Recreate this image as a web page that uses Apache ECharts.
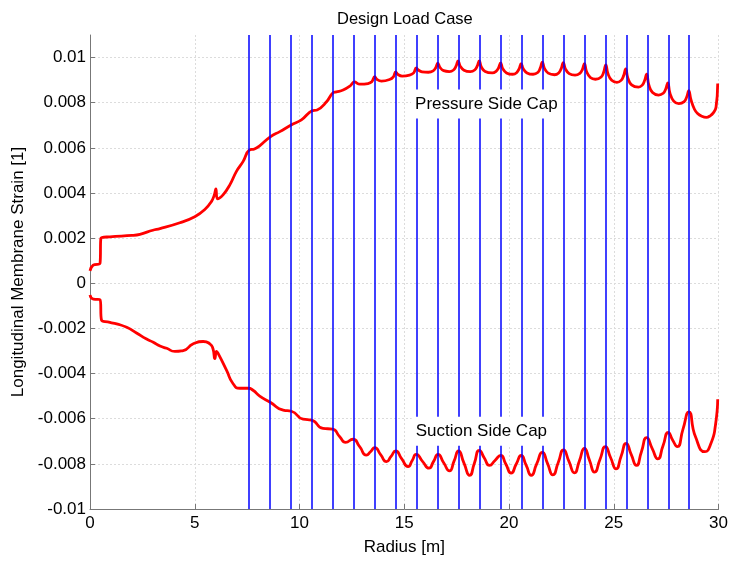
<!DOCTYPE html>
<html>
<head>
<meta charset="utf-8">
<script src="https://cdn.jsdelivr.net/npm/echarts@6/dist/echarts.min.js"></script>
<style>
html,body{margin:0;padding:0;background:#fff;}
#chart{width:731px;height:561px;}
</style>
</head>
<body>
<div id="chart"></div>
<script>
// ---- data ----
const pressureSide = [
  [0, 0.00055], [0.15, 0.0008], [0.48, 0.00089], [0.52, 0.00199], [0.95, 0.00206], [2.0, 0.00212],
  [2.38, 0.00217], [3.0, 0.00235], [3.34, 0.00242], [4.29, 0.00268], [5.0, 0.00295], [5.48, 0.00327],
  [5.8, 0.00363], [5.93, 0.0039], [6.01, 0.00418], [6.08, 0.00374], [6.36, 0.00393], [6.68, 0.00437],
  [6.99, 0.00496], [7.31, 0.0054], [7.6, 0.0059], [7.85, 0.00595], [8.11, 0.0061], [8.62, 0.0065],
  [9.06, 0.00672], [9.62, 0.00702], [10.09, 0.00724], [10.62, 0.00765], [10.84, 0.00768], [11.29, 0.00804],
  [11.6, 0.00844], [11.76, 0.00848], [12.08, 0.00856], [12.4, 0.00873], [12.62, 0.00892], [12.88, 0.00882],
  [13.27, 0.00885], [13.45, 0.00893], [13.59, 0.00915], [13.7, 0.00903], [13.91, 0.00896], [14.3, 0.00903],
  [14.48, 0.00915], [14.59, 0.00937], [14.7, 0.00925], [14.9, 0.00918], [15.25, 0.00922], [15.45, 0.00932],
  [15.57, 0.00954], [15.67, 0.00945], [15.85, 0.00937], [16.15, 0.00935], [16.38, 0.00941], [16.5, 0.00955],
  [16.6, 0.00975], [16.7, 0.00957], [16.88, 0.00942], [17.15, 0.00938], [17.35, 0.00945], [17.47, 0.00962],
  [17.57, 0.00985], [17.67, 0.00962], [17.85, 0.00944], [18.15, 0.00938], [18.36, 0.00945], [18.48, 0.00962],
  [18.58, 0.00985], [18.68, 0.00958], [18.86, 0.00938], [19.2, 0.00932], [19.38, 0.00939], [19.5, 0.00954],
  [19.6, 0.00976], [19.7, 0.00951], [19.88, 0.00932], [20.18, 0.00926], [20.36, 0.00933], [20.48, 0.0095],
  [20.58, 0.00973], [20.68, 0.0095], [20.86, 0.00932], [21.15, 0.00926], [21.37, 0.00934], [21.49, 0.00953],
  [21.59, 0.0098], [21.69, 0.00952], [21.87, 0.00931], [22.17, 0.00924], [22.37, 0.00932], [22.49, 0.00951],
  [22.59, 0.00978], [22.69, 0.0095], [22.87, 0.00929], [23.15, 0.00922], [23.38, 0.0093], [23.5, 0.00947],
  [23.6, 0.00973], [23.7, 0.00938], [23.88, 0.00912], [24.12, 0.00904], [24.4, 0.00914], [24.52, 0.00936],
  [24.62, 0.00968], [24.72, 0.00929], [24.9, 0.00899], [25.15, 0.0089], [25.35, 0.00899], [25.47, 0.0092],
  [25.57, 0.0095], [25.67, 0.0091], [25.85, 0.00879], [26.18, 0.00869], [26.36, 0.00878], [26.47, 0.00898],
  [26.57, 0.00926], [26.67, 0.0088], [26.85, 0.00845], [27.14, 0.00834], [27.36, 0.00842], [27.48, 0.00861],
  [27.58, 0.00888], [27.68, 0.00842], [27.86, 0.00807], [28.1, 0.00796], [28.36, 0.00805], [28.48, 0.00825],
  [28.58, 0.00853], [28.68, 0.00815], [28.85, 0.00771], [29.0, 0.00752], [29.2, 0.0074], [29.42, 0.00735],
  [29.6, 0.00742], [29.75, 0.00755], [29.88, 0.0078], [29.96, 0.00885]
];
const suctionSide = [
  [0, -0.00052], [0.16, -0.0007], [0.48, -0.00073], [0.55, -0.00163], [0.95, -0.00173], [1.27, -0.0018],
  [1.75, -0.00195], [2.22, -0.0022], [2.7, -0.00247], [3.02, -0.00261], [3.34, -0.00278], [3.66, -0.00288],
  [4.05, -0.00302], [4.45, -0.00298], [4.93, -0.00268], [5.4, -0.00258], [5.72, -0.00268], [5.87, -0.0029],
  [5.96, -0.00334], [6.04, -0.00302], [6.12, -0.00312], [6.52, -0.00386], [6.83, -0.00445], [7.15, -0.00465],
  [7.55, -0.00465], [7.78, -0.00474], [8.1, -0.005], [8.62, -0.00528], [9.22, -0.00562], [9.61, -0.00567],
  [10.17, -0.00602], [10.57, -0.00606], [11.12, -0.00643], [11.57, -0.00646], [11.92, -0.0068], [12.2, -0.00705],
  [12.55, -0.00691], [12.87, -0.00724], [13.19, -0.00761], [13.4, -0.00745],
  [13.59, -0.00728], [13.87, -0.00759], [14.15, -0.0079], [14.37, -0.00767],
  [14.59, -0.00743], [14.88, -0.00778], [15.18, -0.00812], [15.38, -0.00785],
  [15.57, -0.00758], [15.87, -0.00789], [16.18, -0.00819], [16.4, -0.00789],
  [16.61, -0.00758], [16.88, -0.00795], [17.16, -0.00831], [17.38, -0.00787],
  [17.59, -0.00743], [17.85, -0.00797], [18.12, -0.00851], [18.35, -0.00796],
  [18.58, -0.0074], [18.82, -0.00774], [19.07, -0.00807], [19.33, -0.00785],
  [19.6, -0.00763], [19.85, -0.00802], [20.1, -0.00841], [20.34, -0.00802],
  [20.58, -0.00763], [20.82, -0.00807], [21.06, -0.00851], [21.32, -0.008],
  [21.59, -0.00749], [21.84, -0.00799], [22.09, -0.00849], [22.35, -0.00794],
  [22.6, -0.00738], [22.86, -0.00789], [23.12, -0.0084], [23.36, -0.00786],
  [23.6, -0.00731], [23.84, -0.00784], [24.08, -0.00837], [24.34, -0.00781],
  [24.6, -0.00724], [24.85, -0.00773], [25.11, -0.00822], [25.35, -0.00766],
  [25.59, -0.00709], [25.83, -0.00758], [26.08, -0.00807], [26.32, -0.00746],
  [26.57, -0.00684], [26.83, -0.00731], [27.1, -0.00778], [27.35, -0.0072],
  [27.6, -0.00661], [27.8, -0.00693], [28.03, -0.00724], [28.3, -0.00647],
  [28.58, -0.0057], [28.9, -0.0068], [29.35, -0.00746], [29.64, -0.00709],
  [29.85, -0.0063], [29.96, -0.00514]
];
const capPositions = [7.6, 8.6, 9.6, 10.6, 11.6, 12.6, 13.6, 14.6, 15.6, 16.6, 17.6, 18.6,
                      19.6, 20.6, 21.6, 22.6, 23.6, 24.6, 25.6, 26.6, 27.6, 28.6];
const yTicks = [-0.01, -0.008, -0.006, -0.004, -0.002, 0, 0.002, 0.004, 0.006, 0.008, 0.01];
const xTicks = [0, 5, 10, 15, 20, 25, 30];
const capLabels = [
  { name: 'Pressure Side Cap', value: [18.92, 0.00794] },
  { name: 'Suction Side Cap', value: [18.68, -0.00656] }
];

const FONT = 'Liberation Sans, Arial, sans-serif';
const chart = echarts.init(document.getElementById('chart'), null, { renderer: 'canvas' });
const fmt = v => (Math.abs(v) < 1e-12 ? '0' : String(+v.toFixed(4)));

chart.setOption({
  animation: false,
  backgroundColor: '#fff',
  title: {
    text: 'Design Load Case',
    left: 332, top: 6,
    textStyle: { fontFamily: FONT, fontSize: 16.5, fontWeight: 'normal', color: '#000' }
  },
  grid: { left: 90, right: 12, top: 35, bottom: 50 },
  xAxis: {
    type: 'value', min: 0, max: 30, interval: 5,
    name: 'Radius [m]', nameLocation: 'middle', nameGap: 30,
    nameTextStyle: { fontFamily: FONT, fontSize: 17, color: '#000' },
    axisLine: { show: true, onZero: false, lineStyle: { color: '#777', width: 1 } },
    axisTick: { show: true, inside: true, length: 5, lineStyle: { color: '#777' } },
    axisLabel: { fontFamily: FONT, fontSize: 17, color: '#000', margin: 6, formatter: fmt,
                 customValues: xTicks },
    splitLine: { show: true, lineStyle: { color: '#dcdcdc', type: [2, 2], width: 1 } }
  },
  yAxis: {
    type: 'value', min: -0.01, max: 0.011,
    name: 'Longitudinal Membrane Strain [1]', nameLocation: 'middle', nameGap: 56,
    nameTextStyle: { fontFamily: FONT, fontSize: 17, color: '#000' },
    axisLine: { show: true, onZero: false, lineStyle: { color: '#777', width: 1 } },
    axisTick: { show: true, inside: true, length: 5, lineStyle: { color: '#777' }, customValues: yTicks },
    axisLabel: { fontFamily: FONT, fontSize: 17, color: '#000', margin: 4, formatter: fmt,
                 customValues: yTicks },
    splitLine: { show: true, lineStyle: { color: '#dcdcdc', type: [2, 2], width: 1 } }
  },
  series: [
    {
      type: 'line', data: [], z: 1, silent: true,
      markLine: {
        silent: true, symbol: ['none', 'none'], animation: false,
        label: { show: false },
        lineStyle: { color: '#0000ff', width: 1.5, type: 'solid', opacity: 1 },
        emphasis: { disabled: true },
        data: capPositions.map(x => ({ xAxis: x }))
      }
    },
    {
      type: 'line', data: pressureSide, z: 3, showSymbol: false, symbol: 'none',
      smooth: 0.45,
      lineStyle: { color: '#ff0000', width: 2.8 }
    },
    {
      type: 'line', data: suctionSide, z: 3, showSymbol: false, symbol: 'none',
      smooth: 0.6,
      lineStyle: { color: '#ff0000', width: 2.8 }
    },
    {
      type: 'scatter', data: capLabels, z: 5, symbolSize: 1, silent: true,
      itemStyle: { color: '#fff', opacity: 1 },
      emphasis: { disabled: true },
      label: {
        show: true, position: 'inside', formatter: p => p.name, opacity: 1,
        fontFamily: FONT, fontSize: 17, color: '#000',
        backgroundColor: '#ffffff', padding: [6, 4]
      }
    }
  ]
});
</script>
</body>
</html>
